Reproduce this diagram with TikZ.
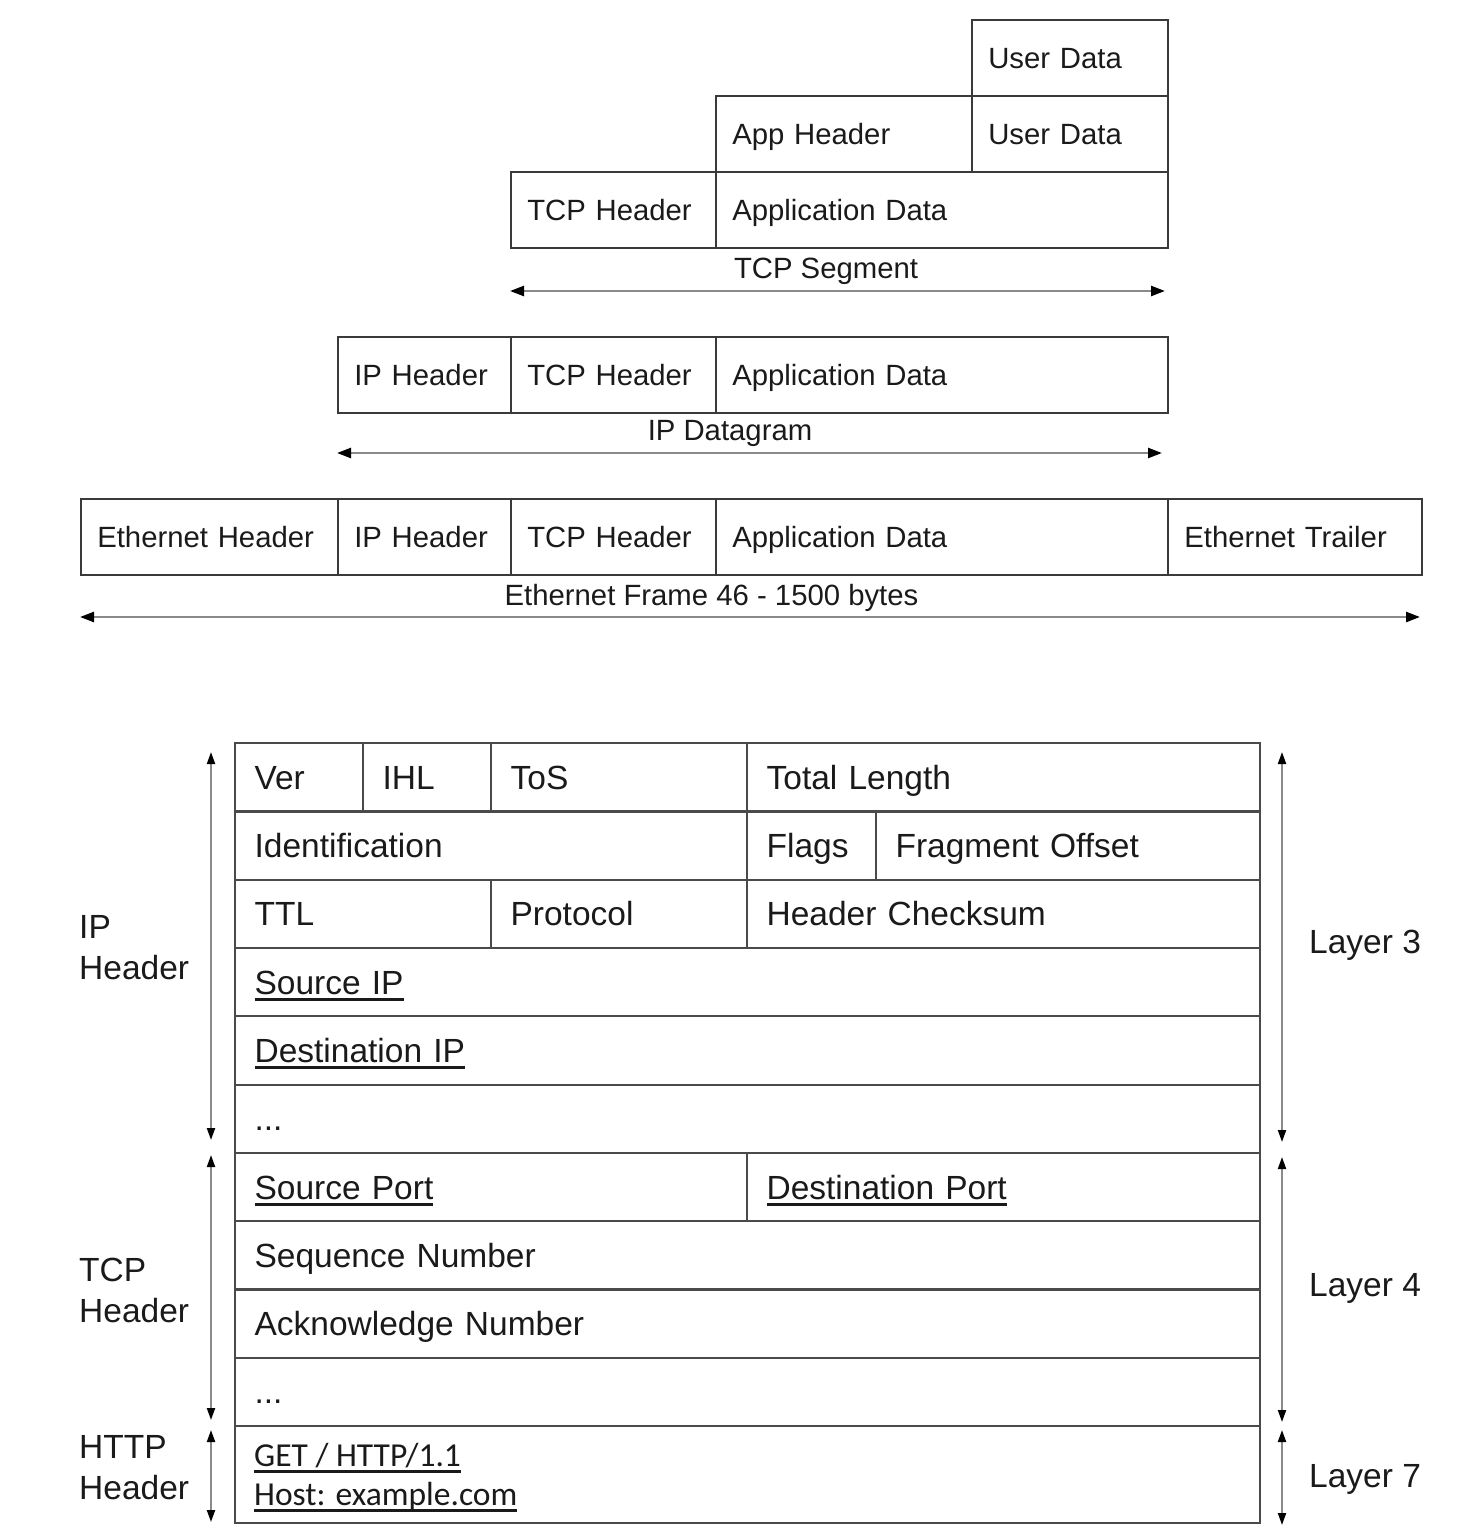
\documentclass[tikz,border=0pt]{standalone}
\usepackage{fontspec}
\setmainfont{Liberation Sans}
\newfontfamily\calib{Carlito}
\usetikzlibrary{arrows.meta}
\definecolor{txt}{HTML}{1A1A1A}
\definecolor{boxc}{HTML}{3A3A3A}
\definecolor{tabc}{HTML}{4A4A4A}
\definecolor{arrc}{HTML}{8A8A8A}
\newcommand\topfont{\fontsize{29.3}{35}\selectfont}
\newcommand\tabfont{\fontsize{33.5}{41}\selectfont}
\newcommand\httpfont{\calib\fontsize{33.5}{40}\selectfont}
\newcommand\myul[1]{\setbox0\hbox{#1}\rlap{\raisebox{-6.5pt}{\rule{\wd0}{2.5pt}}}\box0}
% #1 style, #2 pad, #3 name, #4 x1, #5 y1, #6 x2, #7 y2, #8 text
\newcommand\cellbox[8]{%
 \pgfmathsetmacro\cw{#6-#4}%
 \pgfmathsetmacro\ch{#7-#5}%
 \pgfmathsetmacro\tw{#6-#4-2*#2}%
 \node[#1, minimum width=\cw pt, minimum height=\ch pt, text width=\tw pt, inner xsep=#2pt] (#3) at (#4,#5) {#8};}
\tikzset{
 topcell/.style={draw=boxc, line width=1.6pt, anchor=north west, inner ysep=0pt, align=left, text=txt, font=\topfont, text height=21pt, text depth=0pt},
 tabcell/.style={draw=tabc, line width=2.2pt, anchor=north west, inner ysep=0pt, align=left, text=txt, font=\tabfont, text height=24pt, text depth=0pt},
 toplab/.style={inner sep=0pt, text=txt, font=\topfont, text height=21pt, text depth=0pt},
 sidelab/.style={inner sep=0pt, text=txt, font=\tabfont, align=left, anchor=north west},
 laylab/.style={inner sep=0pt, text=txt, font=\tabfont, anchor=west, text height=24pt, text depth=0pt},
 httptext/.style={inner sep=0pt, text=txt, font=\httpfont, anchor=base west},
 harrow/.style={draw=arrc, line width=2.4pt, {Triangle[length=14pt,width=10pt,black]}-{Triangle[length=14pt,width=10pt,black]}},
 varrow/.style={draw=arrc, line width=2pt, {Triangle[length=12pt,width=8pt,black]}-{Triangle[length=12pt,width=8pt,black]}},
}
\begin{document}
\begin{tikzpicture}[x=1pt,y=-1pt]
\useasboundingbox (0,0) rectangle (1476,1534);
% ---- top encapsulation
\cellbox{topcell}{16.5}{ud1}{971}{19}{1167}{95}{User Data}
\cellbox{topcell}{16.5}{apph}{715}{95}{971}{171}{App Header}
\cellbox{topcell}{16.5}{ud2}{971}{95}{1167}{171}{User Data}
\cellbox{topcell}{16.5}{tcph1}{510}{171}{715}{247}{TCP Header}
\cellbox{topcell}{16.5}{appd1}{715}{171}{1167}{247}{Application Data}
\node[toplab] (seglab) at (826,268) {TCP Segment};
\coordinate (segL) at (510,291);
\coordinate (segR) at (1165,291);
\draw[harrow] (segL) -- (segR);
\cellbox{topcell}{16.5}{iph2}{337}{336}{510}{412}{IP Header}
\cellbox{topcell}{16.5}{tcph2}{510}{336}{715}{412}{TCP Header}
\cellbox{topcell}{16.5}{appd2}{715}{336}{1167}{412}{Application Data}
\node[toplab] (dglab) at (730,430) {IP Datagram};
\coordinate (dgL) at (337,453);
\coordinate (dgR) at (1162,453);
\draw[harrow] (dgL) -- (dgR);
\cellbox{topcell}{16.5}{ethh}{80}{498}{337}{574}{Ethernet Header}
\cellbox{topcell}{16.5}{iph3}{337}{498}{510}{574}{IP Header}
\cellbox{topcell}{16.5}{tcph3}{510}{498}{715}{574}{TCP Header}
\cellbox{topcell}{16.5}{appd3}{715}{498}{1167}{574}{Application Data}
\cellbox{topcell}{16.5}{etht}{1167}{498}{1421}{574}{Ethernet Trailer}
\node[toplab] (frlab) at (711.5,595) {Ethernet Frame 46 - 1500 bytes};
\coordinate (frL) at (80,617);
\coordinate (frR) at (1420,617);
\draw[harrow] (frL) -- (frR);
% ---- header table
\cellbox{tabcell}{19.5}{ver}{234}{742}{362}{810.3}{Ver}
\cellbox{tabcell}{19.5}{ihl}{362}{742}{490}{810.3}{IHL}
\cellbox{tabcell}{19.5}{tos}{490}{742}{746}{810.3}{ToS}
\cellbox{tabcell}{19.5}{tlen}{746}{742}{1259}{810.3}{Total Length}
\cellbox{tabcell}{19.5}{ident}{234}{810.3}{746}{878.6}{Identification}
\cellbox{tabcell}{19.5}{flags}{746}{810.3}{875}{878.6}{Flags}
\cellbox{tabcell}{19.5}{frag}{875}{810.3}{1259}{878.6}{Fragment Offset}
\cellbox{tabcell}{19.5}{ttl}{234}{878.6}{490}{946.9}{TTL}
\cellbox{tabcell}{19.5}{proto}{490}{878.6}{746}{946.9}{Protocol}
\cellbox{tabcell}{19.5}{hcs}{746}{878.6}{1259}{946.9}{Header Checksum}
\cellbox{tabcell}{19.5}{srcip}{234}{946.9}{1259}{1015.2}{\myul{Source IP}}
\cellbox{tabcell}{19.5}{dstip}{234}{1015.2}{1259}{1083.5}{\myul{Destination IP}}
\cellbox{tabcell}{19.5}{ipdots}{234}{1083.5}{1259}{1151.8}{...}
\cellbox{tabcell}{19.5}{srcport}{234}{1151.8}{746}{1220.1}{\myul{Source Port}}
\cellbox{tabcell}{19.5}{dstport}{746}{1151.8}{1259}{1220.1}{\myul{Destination Port}}
\cellbox{tabcell}{19.5}{seq}{234}{1220.1}{1259}{1288.4}{Sequence Number}
\cellbox{tabcell}{19.5}{ack}{234}{1288.4}{1259}{1356.7}{Acknowledge Number}
\cellbox{tabcell}{19.5}{tcpdots}{234}{1356.7}{1259}{1425}{...}
\cellbox{tabcell}{19.5}{http}{234}{1425}{1259}{1522}{}
\node[httptext] (get) at (254,1466) {\myul{GET / HTTP/1.1}};
\node[httptext] (host) at (254,1505) {\myul{Host: example.com}};
% ---- side labels
\node[sidelab] (iplab) at (79,915) {IP\\Header};
\node[sidelab] (tcplab) at (79,1258) {TCP\\Header};
\node[sidelab] (httplab) at (79,1435) {HTTP\\Header};
\node[laylab] (l3) at (1309,941) {Layer 3};
\node[laylab] (l4) at (1309,1284) {Layer 4};
\node[laylab] (l7) at (1309,1475) {Layer 7};
% ---- vertical arrows
\coordinate (ipAt) at (211,752);
\coordinate (ipAb) at (211,1140);
\coordinate (tcpAt) at (211,1155);
\coordinate (tcpAb) at (211,1420);
\coordinate (htAt) at (211,1430);
\coordinate (htAb) at (211,1522);
\coordinate (l3t) at (1282,752);
\coordinate (l3b) at (1282,1142);
\coordinate (l4t) at (1282,1157);
\coordinate (l4b) at (1282,1422);
\coordinate (l7t) at (1282,1430);
\coordinate (l7b) at (1282,1525);
\draw[varrow] (ipAt) -- (ipAb);
\draw[varrow] (tcpAt) -- (tcpAb);
\draw[varrow] (htAt) -- (htAb);
\draw[varrow] (l3t) -- (l3b);
\draw[varrow] (l4t) -- (l4b);
\draw[varrow] (l7t) -- (l7b);
\end{tikzpicture}
\end{document}
